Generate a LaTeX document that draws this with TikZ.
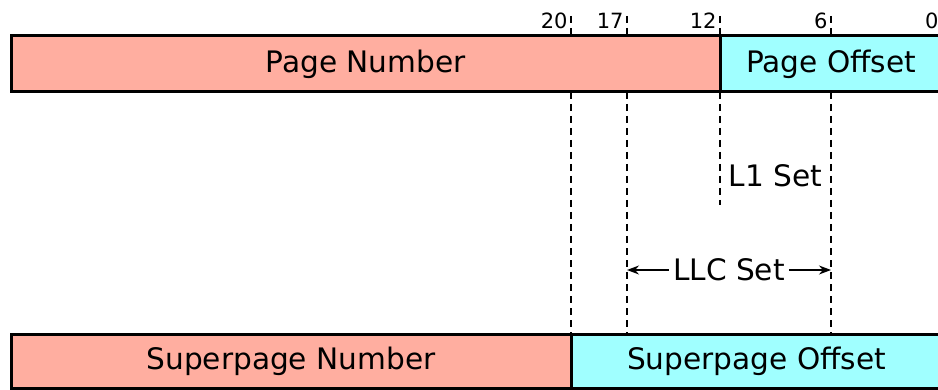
\documentclass[tikz,border=0pt]{standalone}
\usepackage{fontspec}
\setmainfont{DejaVu Sans}
\usetikzlibrary{positioning,arrows.meta,calc}
\definecolor{pagered}{RGB}{255,174,160}
\definecolor{pagecyan}{RGB}{160,255,255}

\begin{document}
\begin{tikzpicture}[x=0.5pt,y=-0.5pt]
	\tikzset{>={Stealth[length=6pt,width=4.5pt]},
		field/.style={draw, line width=1.5pt},
		bitline/.style={dash pattern=on 3.5pt off 2.5pt, line width=1pt},
		lbl/.style={font=\fontsize{14.8}{17}\selectfont},
		bitno/.style={font=\fontsize{10.5}{12}\selectfont, inner sep=0pt, anchor=base east}}
	\useasboundingbox (0,0) rectangle (938,390);
	\clip (0,0) rectangle (938,390);

	% bit positions
	\foreach \b/\x in {20/571, 17/627, 12/720, 6/831, 0/942} {
		\coordinate (u\b) at (\x,36);
		\coordinate (d\b) at (\x,92);
		\coordinate (s\b) at (\x,334);
		\draw[bitline] (\x,16) -- (u\b);
		\node[bitno] (n\b) at (\x-3,29) {\b};
	}

	% page address
	\draw[field, fill=pagered] (11,36) rectangle (d12);
	\draw[field, fill=pagecyan] (u12) rectangle (942,92);
	\node[lbl] (pnum) at (365.5,64) {Page Number};
	\node[lbl] (poff) at (831,64) {Page Offset};

	% superpage address
	\draw[field, fill=pagered] (11,334) rectangle (571,388);
	\draw[field, fill=pagecyan] (s20) rectangle (942,388);
	\node[lbl] (spnum) at (291,361) {Superpage Number};
	\node[lbl] (spoff) at (756.5,361) {Superpage Offset};

	% set index ranges
	\draw[bitline] (d20) -- (s20);
	\draw[bitline] (d17) -- (s17);
	\draw[bitline] (d6) -- (s6);
	\draw[bitline] (d12) -- (720,205) coordinate (l1end);
	\node[lbl] (l1set) at (775.5,176) {L1 Set};
	\node[lbl, inner sep=2pt] (llcset) at (729,270) {LLC Set};
	\draw[->, line width=0.7pt] (llcset.west) -- (llcset -| d17);
	\draw[->, line width=0.7pt] (llcset.east) -- (llcset -| d6);
\end{tikzpicture}
\end{document}
